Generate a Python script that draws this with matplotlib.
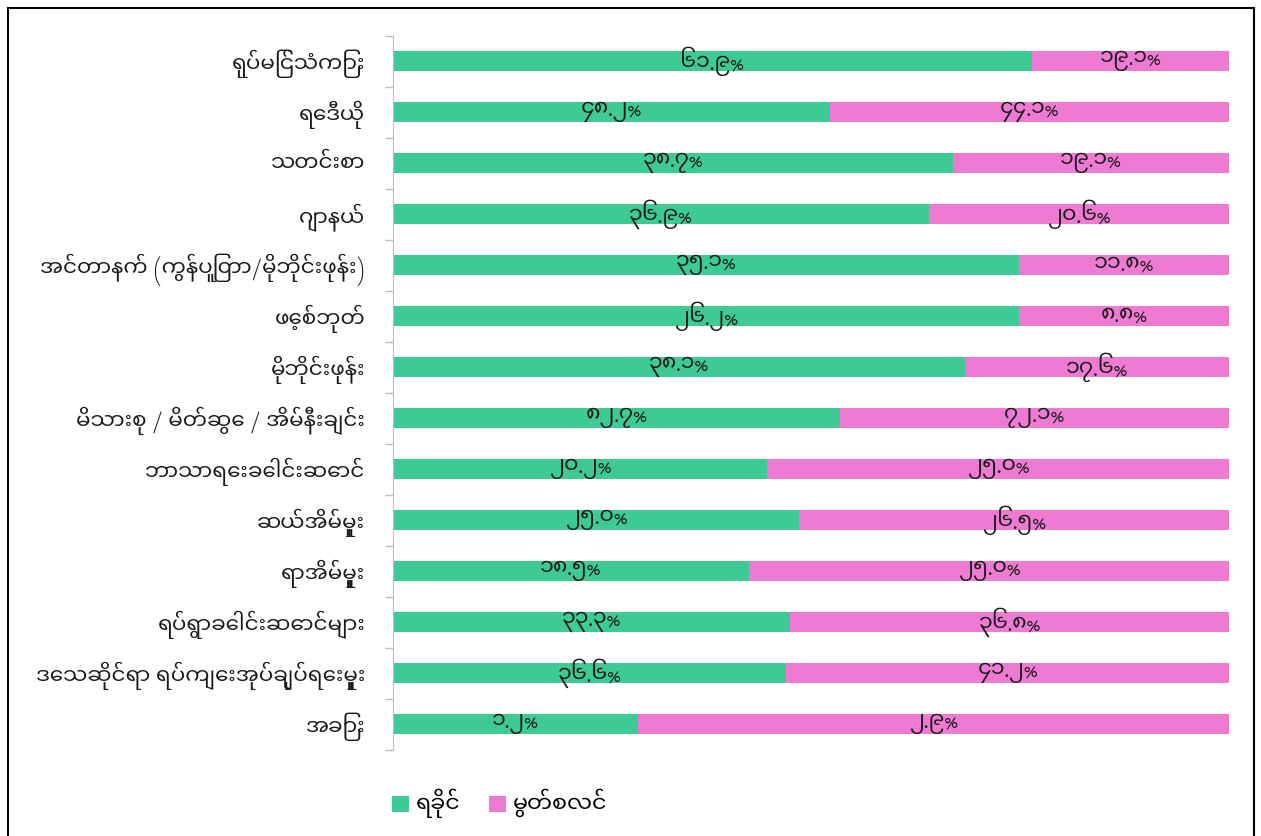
import os
import matplotlib
matplotlib.use("Agg")
import matplotlib.pyplot as plt
import numpy as np
from matplotlib import font_manager
from matplotlib.patches import Rectangle


# categories (top to bottom) and the two series, as printed on the bars
categories = [
    "ရုပ်မြင်သံကြား",
    "ရေဒီယို",
    "သတင်းစာ",
    "ဂျာနယ်",
    "အင်တာနက် (ကွန်ပြူတာ/မိုဘိုင်းဖုန်း)",
    "ဖေ့စ်ဘုတ်",
    "မိုဘိုင်းဖုန်း",
    "မိသားစု / မိတ်ဆွေ / အိမ်နီးချင်း",
    "ဘာသာရေးခေါင်းဆောင်",
    "ဆယ်အိမ်မှူး",
    "ရာအိမ်မှူး",
    "ရပ်ရွာခေါင်းဆောင်များ",
    "ဒေသဆိုင်ရာ ရပ်ကျေးအုပ်ချုပ်ရေးမှူး",
    "အခြား",
]
rakhine = [61.9, 48.2, 38.7, 36.9, 35.1, 26.2, 38.1, 82.7, 20.2, 25.0, 18.5, 33.3, 36.6, 1.2]
muslim = [19.1, 44.1, 19.1, 20.6, 11.8, 8.8, 17.6, 72.1, 25.0, 26.5, 25.0, 36.8, 41.2, 2.9]
series_names = ["ရခိုင်", "မွတ်စလင်"]

GREEN = "#3dca94"
PINK = "#ee7ad3"
TEXT = "#1a1a1a"

# Myanmar font first, DejaVu for anything it lacks
font_dir = "/usr/share/fonts/truetype/google-fonts/"
for fname in ["NotoSansMyanmarUI-Regular.ttf", "Padauk-Regular.ttf"]:
    if os.path.exists(font_dir + fname):
        font_manager.fontManager.addfont(font_dir + fname)
plt.rcParams["font.family"] = ["Noto Sans Myanmar UI", "Padauk", "DejaVu Sans"]

MM_DIGITS = str.maketrans("0123456789", "၀၁၂၃၄၅၆၇၈၉")


def mm_pct(v):
    return f"{v:.1f}".translate(MM_DIGITS) + "%"


rakhine = np.array(rakhine)
muslim = np.array(muslim)
total = rakhine + muslim
share_r = rakhine / total
share_m = muslim / total

W, H = 1261, 836
fig = plt.figure(figsize=(W / 100, H / 100), dpi=100)
ax = fig.add_axes([393 / W, 1 - 749.5 / H, (1229 - 393) / W, (749.5 - 35.5) / H])

y = np.arange(len(categories))
ax.barh(y, share_r, height=0.4, color=GREEN, label=series_names[0])
ax.barh(y, share_m, left=share_r, height=0.4, color=PINK, label=series_names[1])

for i in range(len(categories)):
    ax.text(share_r[i] / 2, y[i], mm_pct(rakhine[i]), ha="center", va="center",
            fontsize=16, color=TEXT)
    ax.text(share_r[i] + share_m[i] / 2, y[i], mm_pct(muslim[i]), ha="center",
            va="center", fontsize=16, color=TEXT)

ax.set_xlim(0, 1)
ax.set_ylim(len(categories) - 0.5, -0.5)
ax.set_xticks([])
ax.set_yticks(y)
ax.set_yticklabels(categories, fontsize=15.5, color=TEXT)
ax.tick_params(axis="y", which="major", length=0, pad=20)
ax.set_yticks(np.arange(-0.5, len(categories)), minor=True)
ax.tick_params(axis="y", which="minor", length=6, color="#bfbfbf", width=1)

for side in ["top", "right", "bottom"]:
    ax.spines[side].set_visible(False)
ax.spines["left"].set_color("#bfbfbf")

handles, labels = ax.get_legend_handles_labels()
fig.legend(handles, labels, loc="center left", bbox_to_anchor=(392 / W, 1 - 803 / H),
           ncol=2, frameon=False, fontsize=16, handlelength=0.75, handleheight=0.75,
           columnspacing=1.3, handletextpad=0.3, borderpad=0, borderaxespad=0)

# outer frame of the picture
fig.patches.append(Rectangle((8 / W, -0.02), (1254 - 8) / W, (836 - 8) / H + 0.02,
                             transform=fig.transFigure, fill=False,
                             edgecolor="black", linewidth=1.5))

fig.savefig("out.png", dpi=100)
